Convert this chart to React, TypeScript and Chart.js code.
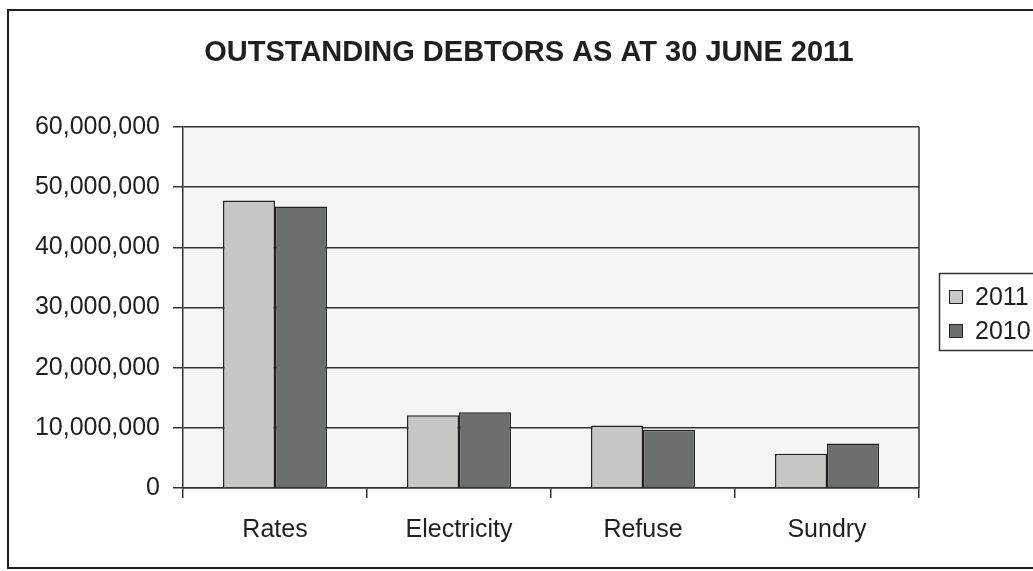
import React, { useEffect, useRef } from "react";
import { Chart, registerables } from "chart.js";

Chart.register(...registerables);

const categories = ["Rates", "Electricity", "Refuse", "Sundry"];
const seriesLabels = ["2011", "2010"];
const values2011 = [47800000, 12100000, 10400000, 5700000];
const values2010 = [46800000, 12600000, 9700000, 7400000];
const yTicks = [0, 10000000, 20000000, 30000000, 40000000, 50000000, 60000000];
const titleText = "OUTSTANDING DEBTORS AS AT 30 JUNE 2011";

const FONT = '"Liberation Sans", Arial, Helvetica, sans-serif';
const INK = "#1f1f1f";
const LIGHT = "#c6c8c3";
const DARK = "#6b6f6b";

const decorPlugin = {
  id: "decor",
  beforeDraw(chart: any) {
    const { ctx, chartArea } = chart;
    ctx.save();
    ctx.fillStyle = "#ffffff";
    ctx.fillRect(0, 0, chart.width, chart.height);
    ctx.fillStyle = "#f5f5f4";
    ctx.fillRect(chartArea.left, chartArea.top, chartArea.right - chartArea.left, chartArea.bottom - chartArea.top);
    ctx.restore();
  },
  afterDraw(chart: any) {
    const { ctx, chartArea } = chart;
    ctx.save();
    // outer frame
    ctx.strokeStyle = INK;
    ctx.lineWidth = 2;
    ctx.strokeRect(8, 10, chart.width + 20, 558);
    // plot area right edge
    ctx.lineWidth = 1.5;
    ctx.strokeStyle = "#333";
    ctx.beginPath();
    ctx.moveTo(chartArea.right, chartArea.top);
    ctx.lineTo(chartArea.right, chartArea.bottom);
    ctx.stroke();
    // title
    ctx.fillStyle = INK;
    ctx.font = `bold 29px ${FONT}`;
    ctx.textAlign = "center";
    ctx.textBaseline = "middle";
    ctx.fillText(titleText, 529, 53);
    // legend
    const lx = 939;
    const ly = 273;
    ctx.lineWidth = 1.5;
    ctx.strokeStyle = "#333";
    ctx.strokeRect(lx + 0.5, ly + 0.5, 140, 77);
    ctx.font = `25px ${FONT}`;
    ctx.textAlign = "left";
    ctx.textBaseline = "middle";
    chart.data.datasets.forEach((ds: any, i: number) => {
      const cy = 297 + i * 34;
      ctx.fillStyle = ds.backgroundColor;
      ctx.fillRect(949, cy - 7, 14, 14);
      ctx.lineWidth = 1;
      ctx.strokeStyle = "#222";
      ctx.strokeRect(949.5, cy - 6.5, 13, 13);
      ctx.fillStyle = INK;
      ctx.fillText(ds.label, 975, cy + 1);
    });
    ctx.restore();
  },
};

export default function App() {
  const ref = useRef<HTMLCanvasElement | null>(null);
  useEffect(() => {
    if (!ref.current) return;
    const chart = new Chart(ref.current, {
      type: "bar",
      data: {
        labels: categories,
        datasets: [
          {
            label: seriesLabels[0],
            data: values2011,
            backgroundColor: LIGHT,
            borderColor: "#222",
            borderWidth: 1.5,
            categoryPercentage: 0.565,
            barPercentage: 1.0,
          },
          {
            label: seriesLabels[1],
            data: values2010,
            backgroundColor: DARK,
            borderColor: "#222",
            borderWidth: 1.5,
            categoryPercentage: 0.565,
            barPercentage: 1.0,
          },
        ],
      },
      options: {
        responsive: false,
        animation: false,
        devicePixelRatio: 1,
        layout: { padding: { left: 0, top: 127, right: 114, bottom: 0 } },
        plugins: {
          legend: { display: false },
          title: { display: false },
          tooltip: { enabled: false },
        },
        scales: {
          x: {
            afterFit: (s: any) => {
              s.height = 83;
            },
            grid: {
              display: true,
              drawOnChartArea: false,
              drawTicks: true,
              tickLength: 10,
              color: "#333",
              lineWidth: 1.5,
              offset: true,
            },
            border: { display: true, color: "#333", width: 1.5 },
            ticks: {
              color: INK,
              font: { family: FONT, size: 25 },
              padding: 17,
              maxRotation: 0,
            },
          },
          y: {
            min: 0,
            max: 60000000,
            afterFit: (s: any) => {
              s.width = 183;
            },
            afterBuildTicks: (s: any) => {
              s.ticks = yTicks.map((v) => ({ value: v }));
            },
            grid: {
              color: "#333",
              lineWidth: 1.5,
              drawTicks: true,
              tickLength: 10,
            },
            border: { display: true, color: "#333", width: 1.5 },
            ticks: {
              color: INK,
              font: { family: FONT, size: 25 },
              padding: 13,
              callback: (v: any) => Number(v).toLocaleString("en-US"),
            },
          },
        },
      },
      plugins: [decorPlugin],
    });
    return () => chart.destroy();
  }, []);
  return (
    <div style={{ position: "absolute", left: 0, top: 0, width: 1033, height: 571, background: "#fff" }}>
      <canvas ref={ref} width={1033} height={571} style={{ display: "block" }} />
    </div>
  );
}
